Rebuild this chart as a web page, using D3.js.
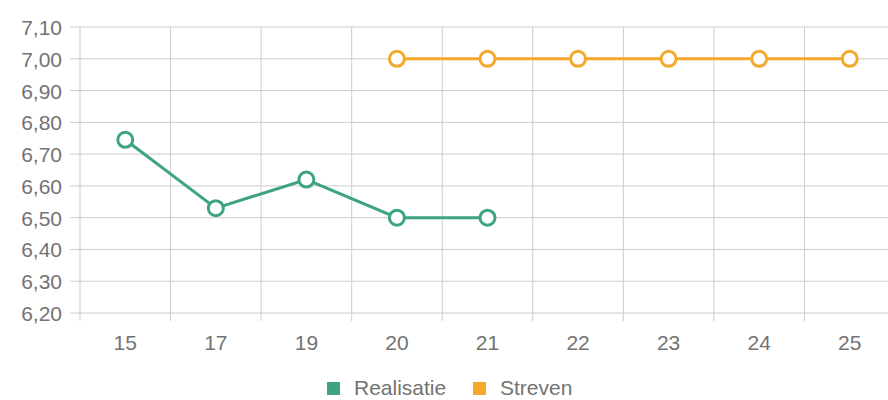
<!DOCTYPE html>
<html>
<head>
<meta charset="utf-8">
<script src="https://cdn.jsdelivr.net/npm/d3@7"></script>
<style>
  body { margin: 0; background: #fff; }
  svg { display: block; font-family: "Liberation Sans", Arial, sans-serif; }
</style>
</head>
<body>
<div id="chart"></div>
<script>
var years = ["15", "17", "19", "20", "21", "22", "23", "24", "25"];
var realisatie = [6.745, 6.53, 6.62, 6.50, 6.50, null, null, null, null];
var streven = [null, null, null, 7.00, 7.00, 7.00, 7.00, 7.00, 7.00];
var yTicks = [6.2, 6.3, 6.4, 6.5, 6.6, 6.7, 6.8, 6.9, 7.0, 7.1];
var seriesNames = ["Realisatie", "Streven"];
var seriesColors = ["#3ea383", "#f5a82c"];

var width = 888, height = 400;
var svg = d3.select("#chart").append("svg")
    .attr("width", width)
    .attr("height", height);

var x = d3.scaleBand().domain(years).range([80, 895]);
var y = d3.scaleLinear().domain([6.2, 7.1]).range([313, 27]);

// horizontal grid
svg.append("g").selectAll("line")
    .data(yTicks)
    .join("line")
    .attr("x1", 70).attr("x2", width)
    .attr("y1", function(d) { return y(d); })
    .attr("y2", function(d) { return y(d); })
    .attr("stroke", "#cccccc");

// vertical grid (band edges)
var edges = years.map(function(d) { return x(d); });
svg.append("g").selectAll("line")
    .data(edges)
    .join("line")
    .attr("x1", function(d) { return d; })
    .attr("x2", function(d) { return d; })
    .attr("y1", 27).attr("y2", 321)
    .attr("stroke", "#cccccc");

// y labels
svg.append("g").selectAll("text")
    .data(yTicks)
    .join("text")
    .attr("x", 62)
    .attr("y", function(d) { return y(d) + 8; })
    .attr("text-anchor", "end")
    .attr("fill", "#737373")
    .style("font-size", "21px")
    .text(function(d) { return d.toFixed(2).replace(".", ","); });

// x labels
svg.append("g").selectAll("text")
    .data(years)
    .join("text")
    .attr("x", function(d) { return x(d) + x.bandwidth() / 2; })
    .attr("y", 350)
    .attr("text-anchor", "middle")
    .attr("fill", "#737373")
    .style("font-size", "21px")
    .text(function(d) { return d; });

function drawSeries(values, color) {
    var pts = years.map(function(d, i) { return { k: d, v: values[i] }; })
        .filter(function(p) { return p.v !== null; });
    var line = d3.line()
        .x(function(p) { return x(p.k) + x.bandwidth() / 2; })
        .y(function(p) { return y(p.v); });
    svg.append("path")
        .datum(pts)
        .attr("d", line)
        .attr("fill", "none")
        .attr("stroke", color)
        .attr("stroke-width", 3);
    svg.append("g").selectAll("circle")
        .data(pts)
        .join("circle")
        .attr("cx", function(p) { return x(p.k) + x.bandwidth() / 2; })
        .attr("cy", function(p) { return y(p.v); })
        .attr("r", 7.5)
        .attr("fill", "#fff")
        .attr("stroke", color)
        .attr("stroke-width", 3);
}
drawSeries(realisatie, seriesColors[0]);
drawSeries(streven, seriesColors[1]);

// legend
var legend = svg.append("g");
var lx = [327, 473];
seriesNames.forEach(function(name, i) {
    legend.append("rect")
        .attr("x", lx[i]).attr("y", 382)
        .attr("width", 13).attr("height", 13)
        .attr("fill", seriesColors[i]);
    legend.append("text")
        .attr("x", lx[i] + 27).attr("y", 395)
        .attr("fill", "#737373")
        .style("font-size", "21px")
        .text(name);
});
</script>
</body>
</html>
